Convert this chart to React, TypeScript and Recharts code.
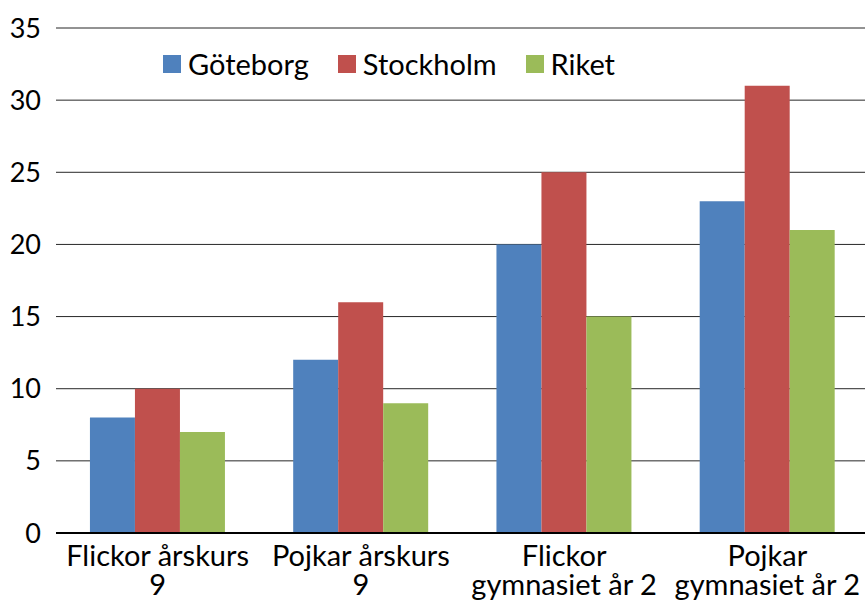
// Stapeldiagram: Göteborg, Stockholm och Riket per grupp.
import { BarChart, Bar, XAxis, YAxis, CartesianGrid } from "recharts";

const categories = ["Flickor årskurs\n9", "Pojkar årskurs\n9", "Flickor\ngymnasiet år 2", "Pojkar\ngymnasiet år 2"];
const goteborg = [8, 12, 20, 23];
const stockholm = [10, 16, 25, 31];
const riket = [7, 9, 15, 21];
const yTicks = [0, 5, 10, 15, 20, 25, 30, 35];

const series = [
  { key: "goteborg", name: "Göteborg", color: "#4F81BD" },
  { key: "stockholm", name: "Stockholm", color: "#C0504D" },
  { key: "riket", name: "Riket", color: "#9BBB59" },
];

const data = categories.map((name, i) => ({
  name,
  goteborg: goteborg[i],
  stockholm: stockholm[i],
  riket: riket[i],
}));

const FONT = "Lato, 'Liberation Sans', sans-serif";

function CatTick({ x, y, payload }: any) {
  const lines = String(payload.value).split("\n");
  return (
    <text x={x} y={y} textAnchor="middle" fill="#000" fontSize={29} fontFamily={FONT}>
      {lines.map((l, i) => (
        <tspan key={i} x={x} dy={i === 0 ? 33 : 29}>{l}</tspan>
      ))}
    </text>
  );
}

// légende posée par-dessus le graphe (la Legend de recharts réduit la zone de tracé)
function LegendBox() {
  return (
    <div style={{ position: "absolute", left: 163, top: 47, display: "flex", alignItems: "center",
      fontFamily: FONT, fontSize: 29, color: "#000", lineHeight: "34px" }}>
      {series.map((s) => (
        <div key={s.key} style={{ display: "flex", alignItems: "center", marginRight: 29 }}>
          <span style={{ width: 18, height: 18, background: s.color, display: "inline-block", marginRight: 7 }} />
          <span>{s.name}</span>
        </div>
      ))}
    </div>
  );
}

export default function App() {
  return (
    <div style={{ position: "absolute", left: 0, top: 0, width: 865, height: 601, overflow: "hidden", background: "#fff" }}>
      <BarChart width={880} height={601} data={data} margin={{ top: 28, right: 11, bottom: 0, left: 0 }}
        barCategoryGap="16.7%" barGap={0}>
        <CartesianGrid horizontal vertical={false} stroke="#000" strokeOpacity={0.85} />
        <XAxis dataKey="name" height={68} tickLine={false} axisLine={{ stroke: "#000", strokeWidth: 2 }}
          interval={0} tick={<CatTick />} tickSize={0} tickMargin={0} />
        <YAxis width={56} domain={[0, 35]} ticks={yTicks} axisLine={false} tickLine={false}
          tickSize={6} tickMargin={9} tick={{ fill: "#000", fontSize: 27, fontFamily: FONT }} />
        {series.map((s) => (
          <Bar key={s.key} dataKey={s.key} name={s.name} fill={s.color} isAnimationActive={false} />
        ))}
      </BarChart>
      <LegendBox />
    </div>
  );
}
